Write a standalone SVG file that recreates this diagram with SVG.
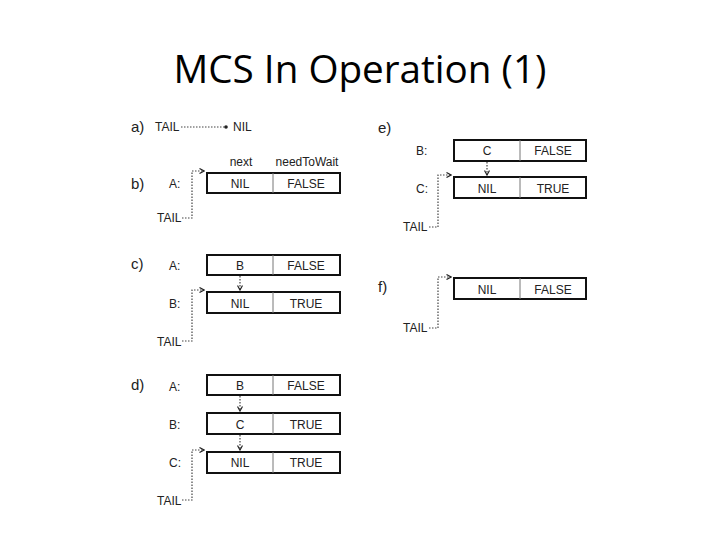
<svg xmlns="http://www.w3.org/2000/svg" width="720" height="540" viewBox="0 0 720 540">
<style>
.title{font-family:"Open Sans","Liberation Sans",sans-serif;font-size:38px;fill:#000}
.lbl{font-family:"Liberation Sans",Arial,sans-serif;font-size:15px;fill:#222}
.t{font-family:"Liberation Sans",Arial,sans-serif;font-size:12px;fill:#222}
.c{text-anchor:middle}
.box{fill:#fff;stroke:#111;stroke-width:2}
.div{stroke:#777;stroke-width:1}
.dot{fill:none;stroke:#444;stroke-width:1.2;stroke-dasharray:1.5,1.5}
</style>
<defs>
<marker id="ah" viewBox="0 0 6 6" refX="5" refY="3" markerWidth="6" markerHeight="6" orient="auto" markerUnits="userSpaceOnUse">
<path d="M0.5,0.5 L5,3 L0.5,5.5" fill="none" stroke="#222" stroke-width="1.2"/>
</marker>
<marker id="dt" viewBox="0 0 4 4" refX="2" refY="2" markerWidth="4" markerHeight="4" markerUnits="userSpaceOnUse">
<circle cx="2" cy="2" r="1.8" fill="#222"/>
</marker>
</defs>
<rect width="720" height="540" fill="#fff"/>
<text class="title" x="360" y="83" text-anchor="middle" textLength="373" lengthAdjust="spacingAndGlyphs">MCS In Operation (1)</text>

<g id="connectors">
<path class="dot" d="M181,127 H226" marker-end="url(#dt)"/>
<path class="dot" d="M182,218 H192 V171 H204" marker-end="url(#ah)"/>
<path class="dot" d="M240,276 V290" marker-end="url(#ah)"/>
<path class="dot" d="M182,341 H192 V290 H204" marker-end="url(#ah)"/>
<path class="dot" d="M240,396 V411" marker-end="url(#ah)"/>
<path class="dot" d="M240,435 V450" marker-end="url(#ah)"/>
<path class="dot" d="M182,500 H192 V450 H204" marker-end="url(#ah)"/>
<path class="dot" d="M487,162 V175" marker-end="url(#ah)"/>
<path class="dot" d="M429,227 H438 V175 H451" marker-end="url(#ah)"/>
<path class="dot" d="M429,328 H438 V277 H451" marker-end="url(#ah)"/>
</g>

<g id="a">
<text class="lbl" x="131" y="132">a)</text>
<text class="t" x="155" y="131">TAIL</text>
<text class="t" x="233" y="131">NIL</text>
</g>

<g id="b">
<text class="lbl" x="131" y="189">b)</text>
<text class="t c" x="241" y="166">next</text>
<text class="t c" x="307" y="166">needToWait</text>
<text class="t" x="169" y="188">A:</text>
<g id="b-A">
<rect class="box" x="207" y="173" width="133" height="20"/>
<line class="div" x1="273" y1="173" x2="273" y2="193"/>
<text class="t c" x="240" y="188">NIL</text>
<text class="t c" x="306" y="188">FALSE</text>
</g>
<text class="t" x="157" y="222">TAIL</text>
</g>

<g id="c">
<text class="lbl" x="131" y="269">c)</text>
<text class="t" x="169" y="270">A:</text>
<g id="c-A">
<rect class="box" x="207" y="255" width="133" height="20"/>
<line class="div" x1="273" y1="255" x2="273" y2="275"/>
<text class="t c" x="240" y="270">B</text>
<text class="t c" x="306" y="270">FALSE</text>
</g>
<text class="t" x="169" y="308">B:</text>
<g id="c-B">
<rect class="box" x="207" y="292" width="133" height="21"/>
<line class="div" x1="273" y1="292" x2="273" y2="313"/>
<text class="t c" x="240" y="308">NIL</text>
<text class="t c" x="306" y="308">TRUE</text>
</g>
<text class="t" x="157" y="346">TAIL</text>
</g>

<g id="d">
<text class="lbl" x="131" y="390">d)</text>
<text class="t" x="169" y="391">A:</text>
<g id="d-A">
<rect class="box" x="207" y="375" width="133" height="20"/>
<line class="div" x1="273" y1="375" x2="273" y2="395"/>
<text class="t c" x="240" y="390">B</text>
<text class="t c" x="306" y="390">FALSE</text>
</g>
<text class="t" x="169" y="429">B:</text>
<g id="d-B">
<rect class="box" x="207" y="413" width="133" height="21"/>
<line class="div" x1="273" y1="413" x2="273" y2="434"/>
<text class="t c" x="240" y="429">C</text>
<text class="t c" x="306" y="429">TRUE</text>
</g>
<text class="t" x="169" y="467">C:</text>
<g id="d-C">
<rect class="box" x="207" y="452" width="133" height="21"/>
<line class="div" x1="273" y1="452" x2="273" y2="473"/>
<text class="t c" x="240" y="467">NIL</text>
<text class="t c" x="306" y="467">TRUE</text>
</g>
<text class="t" x="157" y="505">TAIL</text>
</g>

<g id="e">
<text class="lbl" x="378" y="133">e)</text>
<text class="t" x="416" y="155">B:</text>
<g id="e-B">
<rect class="box" x="454" y="140" width="132" height="21"/>
<line class="div" x1="520" y1="140" x2="520" y2="161"/>
<text class="t c" x="487" y="155">C</text>
<text class="t c" x="553" y="155">FALSE</text>
</g>
<text class="t" x="416" y="193">C:</text>
<g id="e-C">
<rect class="box" x="454" y="177" width="132" height="21"/>
<line class="div" x1="520" y1="177" x2="520" y2="198"/>
<text class="t c" x="487" y="193">NIL</text>
<text class="t c" x="553" y="193">TRUE</text>
</g>
<text class="t" x="403" y="231">TAIL</text>
</g>

<g id="f">
<text class="lbl" x="378" y="292">f)</text>
<g id="f-X">
<rect class="box" x="454" y="278" width="132" height="21"/>
<line class="div" x1="520" y1="278" x2="520" y2="299"/>
<text class="t c" x="487" y="294">NIL</text>
<text class="t c" x="553" y="294">FALSE</text>
</g>
<text class="t" x="403" y="332">TAIL</text>
</g>
</svg>
